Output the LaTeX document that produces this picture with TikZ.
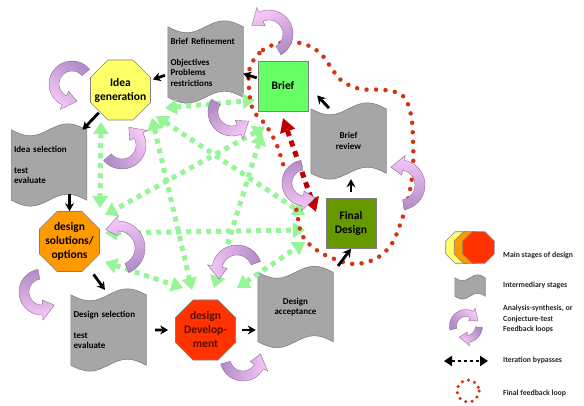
\documentclass[tikz,border=0pt]{standalone}
\usepackage{fontspec}
\setmainfont{Carlito}
\usetikzlibrary{shapes.geometric,arrows.meta,calc,backgrounds}

\definecolor{ideayellow}{RGB}{255,255,102}
\definecolor{soloorange}{RGB}{255,153,0}
\definecolor{devred}{RGB}{255,51,0}
\definecolor{devtext}{RGB}{90,10,0}
\definecolor{briefgreen}{RGB}{102,255,102}
\definecolor{finalgreen}{RGB}{102,153,0}
\definecolor{docgray}{RGB}{166,166,166}
\definecolor{docedge}{RGB}{128,128,128}
\definecolor{bypassgreen}{RGB}{150,245,150}
\definecolor{loopdark}{RGB}{178,140,200}
\definecolor{looplight}{RGB}{248,200,248}
\definecolor{loopedge}{RGB}{140,110,150}
\definecolor{dotred}{RGB}{214,50,20}
\definecolor{arrowred}{RGB}{192,0,0}

\tikzset{
  stage/.style={regular polygon, regular polygon sides=8, draw=docedge, line width=0.6pt,
    minimum size=65pt, inner sep=-12pt, align=center, font=\fontsize{11.5}{14}\selectfont\bfseries},
  box/.style={draw=docedge, line width=0.6pt, minimum size=50pt, inner sep=0pt, align=center,
    font=\fontsize{11.5}{14}\selectfont\bfseries},
  doc/.style={minimum width=75pt, minimum height=70pt, text width=70pt, inner sep=2.5pt,
    align=left, font=\fontsize{9}{10.5}\selectfont\bfseries},
  smalldoc/.style={minimum width=30pt, minimum height=18pt, inner sep=0pt},
  docpath/.style={fill=docgray, draw=docedge, line width=0.6pt},
  stagearrow/.style={black, line width=2.8pt, arrows={-Stealth[length=8pt,width=9pt]}},
  bypass/.style={bypassgreen, line width=5pt, dash pattern=on 5pt off 5pt,
    arrows={Triangle[length=12pt,width=15pt]-Triangle[length=12pt,width=15pt]}},
  finalbypass/.style={arrowred, line width=5pt, dash pattern=on 6pt off 5pt,
    arrows={Triangle[length=14pt,width=15pt]-Triangle[length=14pt,width=15pt]}},
  legbypass/.style={black, line width=2.5pt, dash pattern=on 3pt off 3pt,
    arrows={Triangle[length=8pt,width=10pt]-Triangle[length=8pt,width=10pt]}},
  feedback/.style={dotred, line width=4.5pt, line cap=round, dash pattern=on 0pt off 9.5pt},
  legendtext/.style={anchor=west, inner sep=1pt, font=\fontsize{7.8}{10.5}\selectfont\bfseries, text=black!85}
}

% wavy intermediary stage drawn round a node
\newcommand{\wavedoc}[2]{%
  \filldraw[docpath] (#1.north west)
    sin ($(#1.north west)!.25!(#1.north east)+(0,#2)$)
    cos (#1.north)
    sin ($(#1.north west)!.75!(#1.north east)+(0,-#2)$)
    cos (#1.north east) -- (#1.south east)
    sin ($(#1.south west)!.75!(#1.south east)+(0,-#2)$)
    cos (#1.south)
    sin ($(#1.south west)!.25!(#1.south east)+(0,#2)$)
    cos (#1.south west) -- cycle;}

% curved feedback arrow: centre x, centre y, radius, start, end, band, head
\newcommand{\fbloop}[7]{%
  \pgfmathsetmacro\loophd{ifthenelse(#5>#4,1,-1)*1.3*#7/#3*57.3}%
  \pgfmathsetmacro\loopang{atan2(sin(#4)-sin(#5),cos(#5)-cos(#4))-90}%
  \shadedraw[draw=loopedge, line width=0.4pt, top color=looplight, bottom color=loopdark,
      shading angle=\loopang]
    plot[domain=#4:#5, samples=25, variable=\t] ({#1+(#3+#6)*cos(\t)}, {#2+(#3+#6)*sin(\t)})
    -- ({#1+(#3+#7)*cos(#5)}, {#2+(#3+#7)*sin(#5)})
    -- ({#1+#3*cos(#5+\loophd)}, {#2+#3*sin(#5+\loophd)})
    -- ({#1+(#3-#7)*cos(#5)}, {#2+(#3-#7)*sin(#5)})
    -- plot[domain=#5:#4, samples=25, variable=\t] ({#1+(#3-#6)*cos(\t)}, {#2+(#3-#6)*sin(\t)})
    -- cycle;}

\begin{document}
\begin{tikzpicture}[x=1pt, y=-1pt]

  \useasboundingbox (0,0) rectangle (584,406);

  % main stages
  \node[stage, fill=ideayellow] (ideagen) at (120.5,90) {Idea\\generation};
  \node[stage, fill=soloorange] (dsol) at (69.5,241.5) {design\\solutions/\\options};
  \node[stage, fill=devred, text=devtext] (ddev) at (205.5,330) {design\\Develop-\\ment};
  \node[box, fill=briefgreen] (brief) at (283,86) {Brief};
  \node[box, fill=finalgreen] (fdesign) at (351,223.5) {Final\\Design};

  % intermediary stages
  \node[doc] (briefref) at (205.5,62) {Brief Refinement\\[10.5pt]Objectives\\Problems\\restrictions};
  \node[doc] (ideasel) at (49,165) {Idea selection\\[10.5pt]test\\evaluate};
  \node[doc] (dsel) at (108.5,330) {Design selection\\[10.5pt]test\\evaluate};
  \node[doc, align=center, minimum height=69pt] (dacc) at (295.5,307) {Design\\acceptance};
  \node[doc, align=center, minimum height=64pt] (brev) at (348.5,141) {Brief\\review};

  % legend
  \node[stage, minimum size=34pt, fill=ideayellow] (legyellow) at (461.5,247.5) {};
  \node[stage, minimum size=34pt, fill=soloorange] (legorange) at (470,247.5) {};
  \node[stage, minimum size=34pt, fill=devred] (legred) at (478.5,247.5) {};
  \node[smalldoc] (legdoc) at (470,287) {};
  \coordinate (legbypassL) at (444,361);
  \coordinate (legbypassR) at (488,361);

  \node[legendtext] (legstages) at (502,255) {Main stages of design};
  \node[legendtext] (leginter) at (502,285) {Intermediary stages};
  \node[legendtext, align=left] (legloops) at (502,319) {Analysis-synthesis, or\\Conjecture-test\\Feedback loops};
  \node[legendtext] (legbypass) at (502,360) {Iteration bypasses};
  \node[legendtext] (legfinal) at (502,393) {Final feedback loop};

  \begin{scope}[on background layer]
    \foreach \d in {briefref,ideasel,dsel,dacc,brev} {\wavedoc{\d}{6}}
    \wavedoc{legdoc}{3}
  \end{scope}

  % iteration bypasses
  \draw[bypass] ($(ideagen)+(-19.5,32)$) -- ($(dsol)+(30.5,-33.5)$);
  \draw[bypass] ($(ideagen)+(44.5,18)$) -- ($(brief)+(-28,14)$);
  \draw[bypass] ($(ideagen)+(31.5,28)$) -- ($(ddev)+(-13.5,-40)$);
  \draw[bypass] ($(ideagen)+(35.5,26)$) -- ($(fdesign)+(-46,-8.5)$);
  \draw[bypass] ($(brief)+(-18,41)$) -- ($(dsol)+(35.5,-26.5)$);
  \draw[bypass] ($(brief)+(-21,47)$) -- ($(ddev)+(8.5,-42)$);
  \draw[bypass] ($(dsol)+(35.5,-8.5)$) -- ($(fdesign)+(-46,6.5)$);
  \draw[bypass] ($(dsol)+(35.5,20.5)$) -- ($(ddev)+(-22.5,-42)$);
  \draw[bypass] ($(ddev)+(31.5,-42)$) -- ($(fdesign)+(-46,18.5)$);
  \draw[finalbypass] ($(brief)+(0,32)$) -- ($(fdesign)+(-35,-11.5)$);
  \draw[legbypass] (legbypassL) -- (legbypassR);

  % final feedback loop
  \draw[feedback] plot[smooth cycle, tension=0.6] coordinates {(250,67) (263,50) (285,42)
    (307,45) (322,55) (332,69) (342,81) (360,89) (385,90) (403,96) (411,115) (413,140)
    (413,167) (409,195) (401,222) (391,245) (375,259) (353,264) (332,258) (315,249)
    (302,235) (297,213) (292,190) (284,167) (276,143) (265,124) (253,110) (249,88)};
  \draw[feedback, line width=3.5pt, dash pattern=on 0pt off 6.5pt] (468,391) circle[radius=11];

  % analysis-synthesis loops
  \fbloop{269}{34}{19}{60}{-115}{5}{10}
  \fbloop{72}{84}{18}{-40}{-245}{5}{10}
  \fbloop{122}{145}{19}{140}{-30}{5}{10}
  \fbloop{232}{112}{19}{212}{68}{5}{10}
  \fbloop{118}{248}{22}{66}{-90}{5}{10}
  \fbloop{42}{292}{18}{-100}{-272}{5}{10}
  \fbloop{237}{270}{20}{-20}{-170}{5}{10}
  \fbloop{243}{358}{18}{165}{28}{5}{10}
  \fbloop{305}{183}{18}{-100}{-263}{5}{10}
  \fbloop{400}{185}{20}{80}{-80}{5}{10}
  \fbloop{466}{326}{13}{166}{297}{3.5}{7}
  \fbloop{466}{326}{13}{5}{80}{3.5}{7}

  % stage to stage
  \draw[stagearrow, shorten <=3pt, shorten >=2pt] (briefref) -- (ideagen);
  \draw[stagearrow, shorten <=1pt] (brief) -- (briefref);
  \draw[stagearrow, shorten <=1pt] (ideagen) -- (ideasel);
  \draw[stagearrow, shorten <=-6pt] (ideasel.south -| dsol.north) -- (dsol.north);
  \draw[stagearrow, shorten <=10pt, shorten >=6pt] (dsol) -- (dsel.north);
  \draw[stagearrow, shorten <=9pt, shorten >=7pt] (dsel) -- (ddev);
  \draw[stagearrow, shorten <=6pt, shorten >=2pt] (ddev.east) -- (ddev.east -| dacc.west);
  \draw[stagearrow, shorten <=8pt] (dacc.north east) -- (fdesign.south);
  \draw[stagearrow, shorten <=6pt, shorten >=6pt] (fdesign.north) -- (fdesign.north |- brev.south);
  \draw[stagearrow, shorten <=1pt, shorten >=13pt] ($(brev.north west)!.25!(brev.north east)$) -- (brief.east);

\end{tikzpicture}
\end{document}
